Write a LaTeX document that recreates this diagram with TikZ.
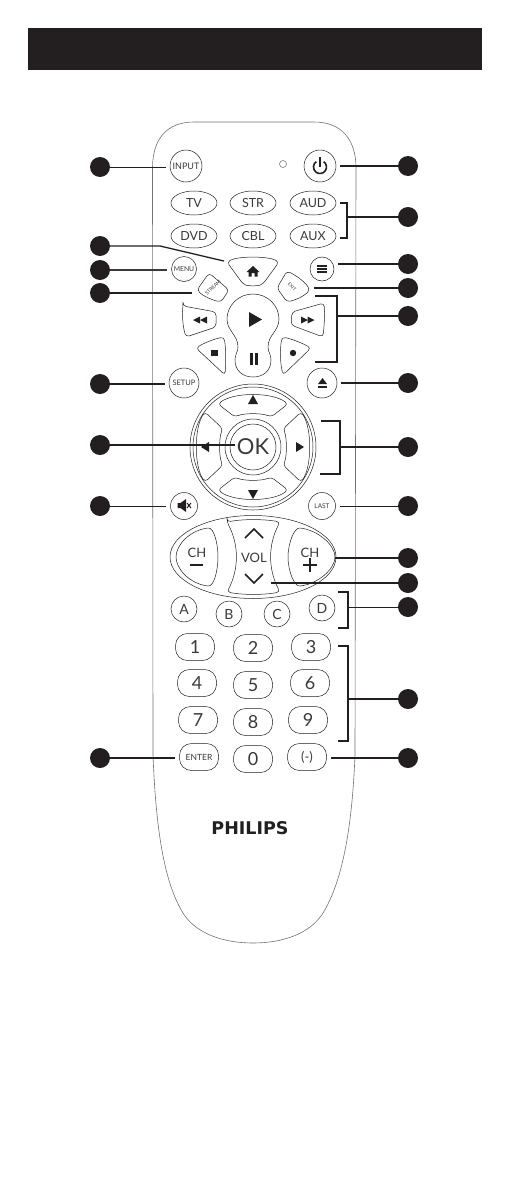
\documentclass[tikz,border=0pt]{standalone}
\usepackage{fontspec}
\setmainfont{Lato}
\newfontfamily\logofont{DejaVu Sans Bold}
\usetikzlibrary{shapes.geometric}
\definecolor{ink}{HTML}{231F20}
\definecolor{soft}{HTML}{3A3A3A}
\tikzset{
  x=1pt,y=-1pt,
  outl/.style={draw=ink,line width=0.5pt},
  body/.style={draw=black!55,line width=0.6pt},
  rbtn/.style={circle,outl,inner sep=0pt,text=soft,font=\fontsize{#1}{#1}\selectfont},
  srcbtn/.style={ellipse,outl,inner sep=0pt,minimum width=46pt,minimum height=24pt,text=soft,font=\fontsize{12.5}{12.5}\selectfont},
  numbtn/.style={rectangle,rounded corners=12pt,outl,inner sep=0pt,minimum width=39pt,minimum height=27pt,text=soft,font=\fontsize{18}{18}\selectfont},
  lab/.style={inner sep=0pt,text=soft,font=\fontsize{#1}{#1}\selectfont},
  dot/.style={circle,fill=ink,inner sep=0pt,minimum size=20pt},
  lead/.style={draw=ink,line width=1.3pt,shorten >=4pt},
  thinlead/.style={draw=ink,line width=0.8pt,shorten >=4pt},
  brk/.style={draw=ink,line width=1.3pt},
  key/.style={outl,rounded corners=3.5pt},
}
\begin{document}
\begin{tikzpicture}
\useasboundingbox (0,0) rectangle (510,1191);
\fill[white] (0,0) rectangle (510,1191);
\fill[ink] (28,28) rectangle (482,70);
% body
\draw[body] (152.5,168) .. controls (152.5,140) and (166,122) .. (194,122) -- (314,122)
  .. controls (342,122) and (356,140) .. (356,168) -- (355,755)
  .. controls (352,830) and (342,882) .. (323,913)
  .. controls (310,934) and (282,943) .. (253,943)
  .. controls (224,943) and (196,934) .. (183,913)
  .. controls (164,882) and (156,830) .. (153,755) -- cycle;
% round buttons
\node[rbtn=9,minimum size=32pt] (input) at (186,166) {INPUT};
\node[rbtn=7,minimum size=32pt] (power) at (320,166) {};
\draw[ink,line width=1.6pt] (323.7,161.7) arc[start angle=55,end angle=-235,radius=6.5pt];
\draw[ink,line width=1.6pt] (320,157) -- (320,167);
\node[circle,draw=black!60,line width=0.5pt,minimum size=7pt,inner sep=0pt] (led) at (283,164) {};
% sources
\node[srcbtn] (tv) at (194,203) {TV};
\node[srcbtn] (str) at (253,203) {STR};
\node[srcbtn] (aud) at (313,203) {AUD};
\node[srcbtn] (dvd) at (194,236) {DVD};
\node[srcbtn] (cbl) at (253,236) {CBL};
\node[srcbtn] (aux) at (313,236) {AUX};
% home
\draw[key] (227,262) .. controls (238,256) and (268,256) .. (279,262) -- (263,284) .. controls (258,286) and (248,286) .. (243,284) -- cycle;
\fill[ink] (253,266) -- (259.5,272) -- (257.5,272) -- (257.5,276.5) -- (254.5,276.5) -- (254.5,273) -- (251.5,273) -- (251.5,276.5) -- (248.5,276.5) -- (248.5,272) -- (246.5,272) -- cycle;
\node[rbtn=6.8,minimum size=25pt] (menu) at (184,269) {MENU};
\node[rbtn=7,minimum size=24pt] (hamb) at (322,269) {};
\foreach \yy in {266,269,272} \draw[ink,line width=1.2pt] (317,\yy) -- (327,\yy);
% stream exit
\draw[key] (209,273) -- (229,290) -- (221,302) .. controls (212,300) and (203,296) .. (197,290) -- cycle;
\node[lab=5,rotate=45] (stream) at (213,287.5) {STREAM};
\draw[key] (287,271) .. controls (297,276) and (305,282) .. (310,290) .. controls (303,297) and (295,300) .. (287,302) -- (277,288) -- cycle;
\node[lab=4.5,rotate=-45] (exitl) at (292,287) {EXIT};
\coordinate (streamW) at (196,293);
\coordinate (exitE) at (310,288);
% play pause
\draw[outl] (253,294) .. controls (268,294) and (279,306) .. (279,319) .. controls (279,331) and (268,335) .. (268,347)
  .. controls (268,352) and (271,354) .. (271,360) .. controls (271,371) and (263,377) .. (253,377)
  .. controls (243,377) and (235,371) .. (235,360) .. controls (235,354) and (238,352) .. (238,347)
  .. controls (238,335) and (227,331) .. (227,319) .. controls (227,306) and (238,294) .. (253,294) -- cycle;
\fill[ink] (249,312) -- (262,319.5) -- (249,327) -- cycle;
\fill[ink] (250,353) rectangle (252.7,365);
\fill[ink] (255,353) rectangle (257.7,365);
% transport
\draw[key] (183,306) -- (216,312) -- (216,327) -- (186,337) .. controls (183,327) and (182,316) .. (183,306) -- cycle;
\fill[ink] (193,320) -- (200,316.5) -- (200,323.5) -- cycle;
\fill[ink] (200,320) -- (207,316.5) -- (207,323.5) -- cycle;
\draw[key] (292,312) -- (324,303) .. controls (325,316) and (324,327) .. (323,337) -- (291,325) -- cycle;
\fill[ink] (301,316.5) -- (308,320) -- (301,323.5) -- cycle;
\fill[ink] (307.5,316.5) -- (314.5,320) -- (307.5,323.5) -- cycle;
\draw[key] (196,348) .. controls (204,343) and (214,339) .. (224,337) .. controls (226,349) and (226,362) .. (225,375) -- cycle;
\fill[ink] (211,349.5) rectangle (217.5,356);
\draw[key] (311,348) .. controls (302,343) and (292,339) .. (282,337) .. controls (280,349) and (280,362) .. (283,375) -- cycle;
\fill[ink] (293,353) circle[radius=3.2pt];
% setup eject
\node[rbtn=7.5,minimum size=30pt] (setup) at (184,383) {SETUP};
\node[rbtn=7,minimum size=30pt] (eject) at (322,383) {};
\fill[ink] (322.5,378) -- (327,384) -- (318,384) -- cycle;
\fill[ink] (318,386) rectangle (327,388);
% dpad
\node[circle,outl,minimum size=126pt,inner sep=0pt] (dpO) at (253,447) {};
\node[circle,outl,minimum size=120pt,inner sep=0pt] (dpI) at (253,447) {};
\draw[key] (218,404) .. controls (234,392) and (272,392) .. (288,404) -- (271,417) .. controls (262,413) and (244,413) .. (235,417) -- cycle;
\draw[key] (218,490) .. controls (234,502) and (272,502) .. (288,490) -- (271,477) .. controls (262,481) and (244,481) .. (235,477) -- cycle;
\draw[key] (205,412) .. controls (194,428) and (194,466) .. (205,482) -- (223,465) .. controls (219,457) and (219,437) .. (223,429) -- cycle;
\draw[key] (301,412) .. controls (312,428) and (312,466) .. (301,482) -- (283,465) .. controls (287,457) and (287,437) .. (283,429) -- cycle;
\node[circle,outl,minimum size=56pt,inner sep=0pt] (okO) at (253,447) {};
\node[circle,outl,minimum size=46pt,inner sep=0pt] (okI) at (253,447) {};
\node[lab=22] (ok) at (253,447) {OK};
\fill[ink] (253,395) -- (258,404) -- (248,404) -- cycle;
\fill[ink] (253,499) -- (258,490) -- (248,490) -- cycle;
\fill[ink] (304,447) -- (296,442) -- (296,452) -- cycle;
\fill[ink] (201,447) -- (209,442) -- (209,452) -- cycle;
% mute last
\node[rbtn=7,minimum size=27pt] (mute) at (184,506) {};
\fill[ink] (177.5,503) -- (180.5,503) -- (186,499) -- (186,512) -- (180.5,508) -- (177.5,508) -- cycle;
\draw[ink,line width=1pt] (187,503) -- (191,508) (191,503) -- (187,508);
\node[rbtn=6.5,minimum size=27pt] (last) at (322,506) {LAST};
% vol oval
\node[ellipse,outl,minimum width=166pt,minimum height=83pt,inner sep=0pt] (oval) at (253,557) {};
\draw[key] (227,522) .. controls (243,519) and (264,519) .. (280,522) .. controls (268,545) and (268,569) .. (280,592) .. controls (264,595) and (243,595) .. (227,592) .. controls (239,569) and (239,545) .. (227,522) -- cycle;
\draw[outl] (208,528) .. controls (190,530) and (176,545) .. (176,557) .. controls (176,569) and (190,584) .. (208,586) .. controls (214,587) and (218,570) .. (218,557) .. controls (218,544) and (214,527) .. (208,528) -- cycle;
\draw[outl] (300,528) .. controls (318,530) and (335,545) .. (335,557) .. controls (335,569) and (318,584) .. (300,586) .. controls (294,587) and (288,570) .. (288,557) .. controls (288,544) and (294,527) .. (300,528) -- cycle;
\node[lab=13] (chm) at (197,553) {CH};
\node[lab=13] (chp) at (310,553) {CH};
\draw[ink,line width=2pt] (190,564.5) -- (203,564.5);
\draw[ink,line width=2pt] (303,564.5) -- (317,564.5) (310,557.5) -- (310,571.5);
\node[lab=13] (vol) at (254,558) {VOL};
\draw[ink,line width=1.5pt] (245,538) -- (254,529) -- (263,538);
\draw[ink,line width=1.5pt] (245,574) -- (254,583) -- (263,574);
\coordinate (chpE) at (335,559);
\coordinate (volE) at (271,583);
% letters
\node[rbtn=14,minimum size=26pt] (ka) at (184,609) {A};
\node[rbtn=14,minimum size=26pt] (kb) at (229,614) {B};
\node[rbtn=14,minimum size=26pt] (kc) at (277,614) {C};
\node[rbtn=14,minimum size=26pt] (kd) at (322,608) {D};
% numbers
\node[numbtn] (n1) at (195,647) {1};
\node[numbtn] (n2) at (253,648) {2};
\node[numbtn] (n3) at (311,647) {3};
\node[numbtn] (n4) at (197,683) {4};
\node[numbtn] (n5) at (253,685) {5};
\node[numbtn] (n6) at (310,683) {6};
\node[numbtn] (n7) at (198,720) {7};
\node[numbtn] (n8) at (253,722) {8};
\node[numbtn] (n9) at (308,720) {9};
\node[numbtn,font=\fontsize{8.5}{8.5}\selectfont] (enter) at (199,757) {ENTER};
\node[numbtn] (n0) at (253,759) {0};
\node[numbtn,font=\fontsize{13}{13}\selectfont] (minus) at (307,757) {(-)};
\node[inner sep=0pt,text=ink,font=\logofont\fontsize{17.5}{17.5}\selectfont] (logo) at (250,828) {PHILIPS};
% dots
\foreach \n/\yy in {l1/167,l2/246,l3/270,l4/293,l5/384,l6/445,l7/506,l8/758}
  \node[dot] (\n) at (100,\yy) {};
\foreach \n/\yy in {r1/166,r2/217,r3/264,r4/288,r5/316,r6/383,r7/447,r8/506,r9/558,r10/583,r11/607,r12/699,r13/758}
  \node[dot] (\n) at (408,\yy) {};
% left leads
\draw[thinlead] (l1) -- (l1 -| input.west);
\coordinate (homeW) at (228,262);
\coordinate (homeB) at (160,246);
\draw[lead] (l2) -- (homeB) -- (homeW);
\draw[lead,draw=soft] (l3) -- (l3 -| menu.west);
\draw[lead] (l4) -- (l4 -| streamW);
\draw[lead] (l5) -- (l5 -| setup.west);
\draw[lead,shorten >=2pt] (l6) -- (l6 -| ok.west);
\draw[thinlead] (l7) -- (l7 -| mute.west);
\draw[lead] (l8) -- (l8 -| enter.west);
% right leads
\draw[lead] (r1) -- (r1 -| power.east);
\draw[lead] (r3) -- (r3 -| hamb.east);
\draw[lead] (r4) -- (r4 -| exitE);
\draw[lead] (r6) -- (r6 -| eject.east);
\draw[thinlead] (r8) -- (r8 -| last.east);
\draw[lead,shorten >=0pt] (r9) -- (r9 -| chpE);
\draw[lead,shorten >=0pt] (r10) -- (volE);
\draw[lead] (r13) -- (r13 -| minus.east);
% brackets
\coordinate (b2a) at (340,203); \coordinate (b2c) at (347,203); \coordinate (b2d) at (347,238); \coordinate (b2b) at (340,238);
\draw[brk] (b2a) -- (b2c) -- (b2d) -- (b2b);
\draw[brk] (r2) -- (r2 -| b2c);
\coordinate (b5a) at (315,296); \coordinate (b5c) at (337,296); \coordinate (b5d) at (337,362); \coordinate (b5b) at (315,362);
\draw[brk] (b5a) -- (b5c) -- (b5d) -- (b5b);
\draw[brk] (r5) -- (r5 -| b5c);
\coordinate (b7a) at (321,421); \coordinate (b7c) at (340,421); \coordinate (b7d) at (340,474); \coordinate (b7b) at (320,474);
\draw[brk] (b7a) -- (b7c) -- (b7d) -- (b7b);
\draw[brk] (r7) -- (r7 -| b7c);
\coordinate (b11a) at (338,592); \coordinate (b11c) at (348,592); \coordinate (b11d) at (348,628); \coordinate (b11b) at (338,628);
\draw[brk] (b11a) -- (b11c) -- (b11d) -- (b11b);
\draw[thinlead,shorten >=0pt] (r11) -- (r11 -| b11c);
\coordinate (b12a) at (338,646); \coordinate (b12c) at (348,646); \coordinate (b12d) at (348,741); \coordinate (b12b) at (338,741);
\draw[brk] (b12a) -- (b12c) -- (b12d) -- (b12b);
\draw[brk] (r12) -- (r12 -| b12c);
\end{tikzpicture}
\end{document}
